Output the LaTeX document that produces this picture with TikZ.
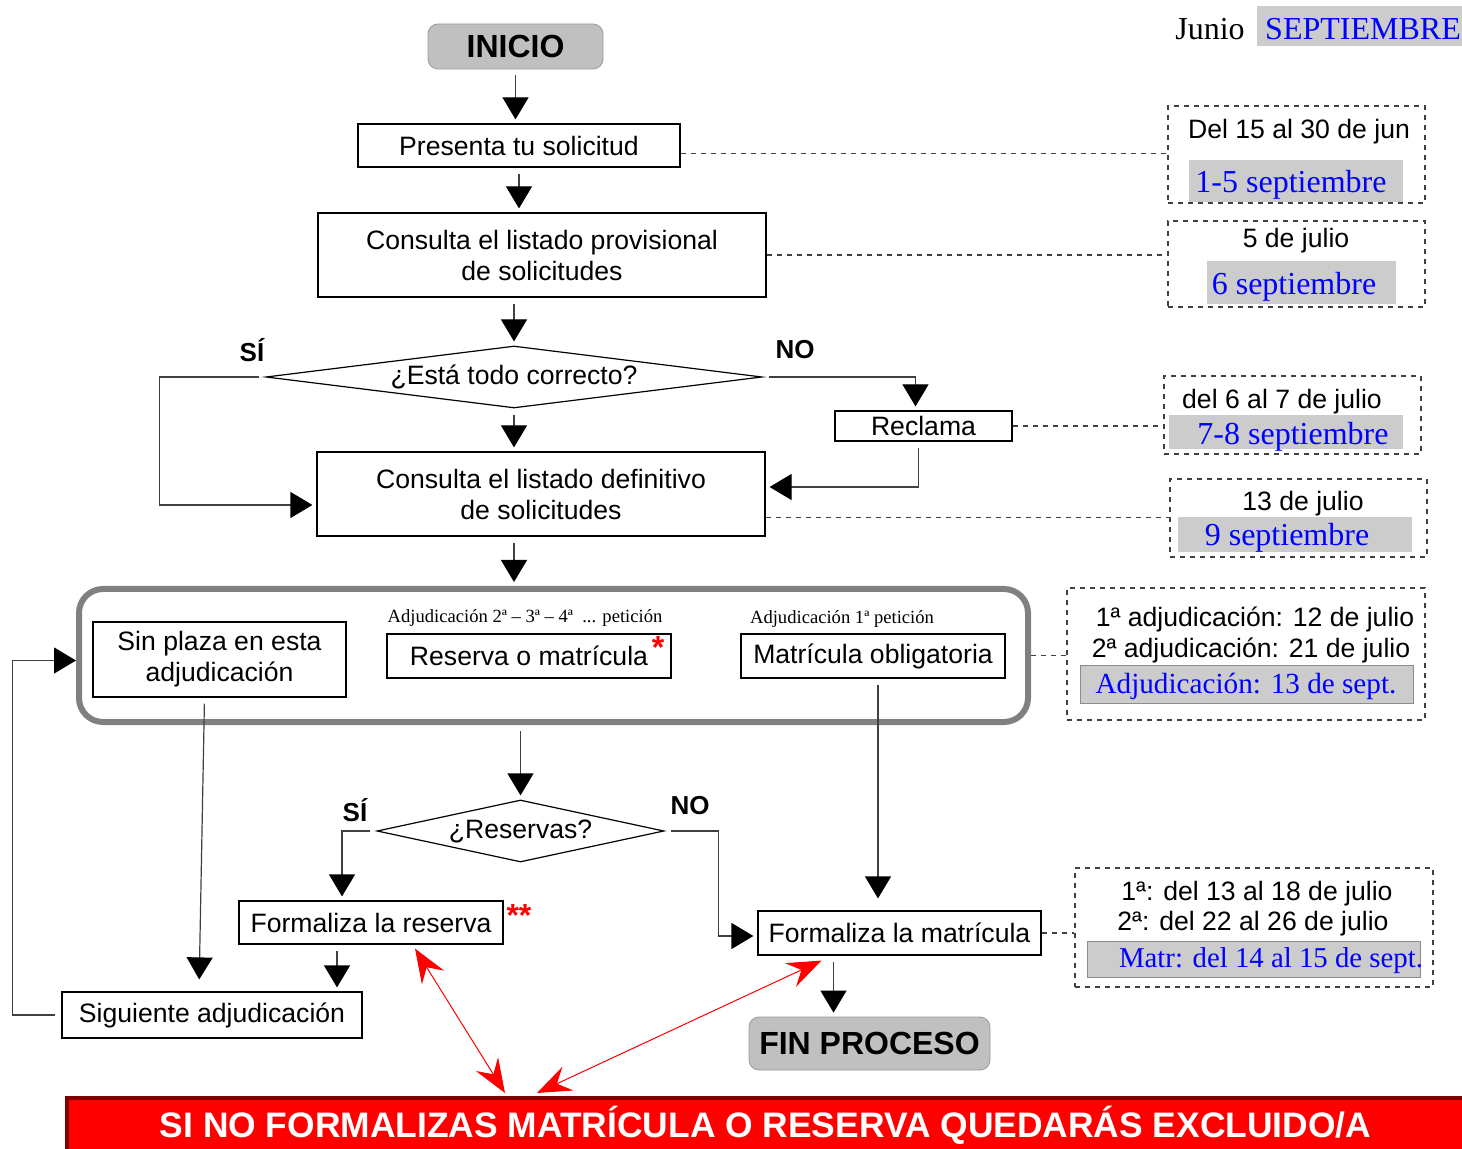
\documentclass[tikz,border=0pt]{standalone}
\usepackage{fontspec}
\setmainfont{Liberation Sans}
\newfontfamily\romana{Liberation Serif}
\usetikzlibrary{shapes.geometric}
\usetikzlibrary{arrows.meta}
\usetikzlibrary{calc}
\definecolor{grisbox}{RGB}{204,204,204}
\definecolor{grisfin}{RGB}{192,192,192}
\definecolor{granate}{RGB}{128,0,0}

\begin{document}
\begin{tikzpicture}[x = .5pt, y = -.5pt,
  caja/.style = {draw, line width = .6pt, fill = white, inner sep = 0, align = center, font = \fontsize{13.3}{15.5}\selectfont},
  terminal/.style = {draw = black!40, fill = grisfin, rounded corners = 5pt, inner sep = 0, font = \fontsize{16}{18}\selectfont\bfseries},
  pregunta/.style = {diamond, draw, line width = .6pt, inner sep = 0, font = \fontsize{13.3}{15.5}\selectfont},
  flecha/.style = {draw = black!75, line width = .6pt, -{Triangle[length = 11pt, width = 13pt, black]}, shorten > = 2pt, shorten < = 3pt},
  guion/.style = {draw = black!75, line width = .6pt, dash pattern = on 2.5pt off 2.5pt},
  fecha/.style = {guion, inner sep = 0},
  marca/.style = {fill = grisbox, inner sep = 0},
  texto/.style = {inner sep = 0, font = \fontsize{13.3}{15.5}\selectfont},
  azul/.style = {inner sep = 0, text = blue, font = \romana\fontsize{16}{18}\selectfont},
  sino/.style = {inner sep = 0, font = \fontsize{13}{15}\selectfont\bfseries},
  nota/.style = {inner sep = 0, font = \romana\fontsize{9.3}{11}\selectfont},
  ast/.style = {inner sep = 0, text = red, font = \fontsize{16}{18}\selectfont\bfseries},
  roja/.style = {draw = red, line width = .5pt, {Stealth[length = 17pt, width = 13pt, inset = 6pt]}-{Stealth[length = 17pt, width = 13pt, inset = 6pt]}},
]
  \useasboundingbox (0, 0) rectangle (1462, 1149);

  % cabecera
  \node[inner sep = 0, font = \romana\fontsize{16}{18}\selectfont] (junio) at (1210, 29) {Junio};
  \node[marca, minimum width = 102.5pt, minimum height = 20pt] (septbox) at (1359.5, 26) {};
  \node[azul] (sept) at (1363, 29) {SEPTIEMBRE};

  % solicitud
  \node[terminal, minimum width = 87.5pt, minimum height = 22.5pt] (inicio) at (515.5, 46.5) {INICIO};
  \node[caja, minimum width = 161pt, minimum height = 21.5pt] (presenta) at (519, 145.5) {Presenta tu solicitud};
  \node[caja, minimum width = 224pt, minimum height = 42pt] (provisional) at (542, 255) {Consulta el listado provisional\\de solicitudes};
  \node[pregunta, aspect = 8, minimum width = 248pt, minimum height = 31pt] (correcto) at (514, 377) {¿Está todo correcto?};
  \node[sino] (si1) at (252, 350) {SÍ};
  \node[sino] (no1) at (795, 350) {NO};
  \node[caja, minimum width = 88.5pt, minimum height = 15pt] (reclama) at (923.5, 426) {Reclama};
  \node[caja, minimum width = 224pt, minimum height = 42pt] (definitivo) at (541, 494) {Consulta el listado definitivo\\de solicitudes};

  % adjudicacion
  \node[draw = black!50, line width = 3pt, rounded corners = 12pt, minimum width = 474.5pt, minimum height = 66.5pt] (grupo) at (553.5, 655.5) {};
  \node[caja, minimum width = 126.5pt, minimum height = 37.5pt] (sinplaza) at (219.5, 659.5) {Sin plaza en esta\\adjudicación};
  \node[caja, minimum width = 142pt, minimum height = 22pt] (reserva) at (529, 656) {Reserva o matrícula};
  \node[caja, minimum width = 132pt, minimum height = 22pt] (obligatoria) at (873, 656) {Matrícula obligatoria};
  \node[nota] (nota2) at (525, 618) {Adjudicación 2ª – 3ª – 4ª \ ... petición};
  \node[nota] (nota1) at (842, 619) {Adjudicación 1ª petición};
  \node[ast] (ast1) at (658, 647) {*};

  % reserva o matricula
  \node[pregunta, aspect = 4.6, minimum width = 143.5pt, minimum height = 31pt] (reservas) at (520.5, 831) {¿Reservas?};
  \node[sino] (si2) at (355, 810) {SÍ};
  \node[sino] (no2) at (690, 806) {NO};
  \node[caja, minimum width = 132pt, minimum height = 21.5pt] (formres) at (371, 922.5) {Formaliza la reserva};
  \node[ast] (ast2) at (519, 915) {**};
  \node[caja, minimum width = 141.5pt, minimum height = 22pt] (formmat) at (899.5, 933) {Formaliza la matrícula};
  \node[caja, minimum width = 150pt, minimum height = 23pt] (siguiente) at (212, 1015) {Siguiente adjudicación};
  \node[terminal, minimum width = 120.5pt, minimum height = 26.5pt] (fin) at (869.5, 1043.5) {FIN PROCESO};
  \node[fill = red, draw = granate, line width = 2pt, text = white, font = \fontsize{17.7}{20}\selectfont\bfseries, minimum width = 698.5pt, minimum height = 27.5pt, inner sep = 0] (aviso) at (765.5, 1125.5) {SI NO FORMALIZAS MATRÍCULA O RESERVA QUEDARÁS EXCLUIDO/A};

  % fechas
  \node[fecha, minimum width = 128.5pt, minimum height = 48.5pt] (fecha1) at (1296.5, 154.5) {};
  \node[texto] (f1a) at (1299, 132) {Del 15 al 30 de jun};
  \node[marca, minimum width = 107pt, minimum height = 21pt] (f1box) at (1296, 181) {};
  \node[azul] (f1b) at (1291, 185) {1-5 septiembre};

  \node[fecha, minimum width = 128.5pt, minimum height = 43pt] (fecha2) at (1296.5, 264) {};
  \node[texto] (f2a) at (1296, 241) {5 de julio};
  \node[marca, minimum width = 94.5pt, minimum height = 21.5pt] (f2box) at (1301.5, 282.5) {};
  \node[azul] (f2b) at (1294, 287) {6 septiembre};

  \node[fecha, minimum width = 128.5pt, minimum height = 39pt] (fecha3) at (1292.5, 415) {};
  \node[texto] (f3a) at (1282, 402) {del 6 al 7 de julio};
  \node[marca, minimum width = 117pt, minimum height = 17pt] (f3box) at (1286, 432) {};
  \node[azul] (f3b) at (1293, 437) {7-8 septiembre};

  \node[fecha, minimum width = 128.5pt, minimum height = 39pt] (fecha4) at (1298.5, 518) {};
  \node[texto] (f4a) at (1303, 504) {13 de julio};
  \node[marca, minimum width = 117pt, minimum height = 17.5pt] (f4box) at (1295, 534.5) {};
  \node[azul] (f4b) at (1287, 538) {9 septiembre};

  \node[fecha, minimum width = 179pt, minimum height = 66pt] (fecha5) at (1246, 654) {};
  \node[texto] (f5a) at (1255, 619) {1ª adjudicación: 12 de julio};
  \node[texto] (f5b) at (1251, 650) {2ª adjudicación: 21 de julio};
  \node[marca, draw = black!45, minimum width = 166.5pt, minimum height = 19pt] (f5box) at (1246.5, 684) {};
  \node[azul, font = \romana\fontsize{14.6}{16}\selectfont] (f5c) at (1246, 686) {Adjudicación: 13 de sept.};

  \node[fecha, minimum width = 179pt, minimum height = 59.5pt] (fecha6) at (1254, 927.5) {};
  \node[texto] (f6a) at (1257, 894) {1ª: del 13 al 18 de julio};
  \node[texto] (f6b) at (1253, 924) {2ª: del 22 al 26 de julio};
  \node[marca, draw = black!45, minimum width = 166.5pt, minimum height = 18pt] (f6box) at (1253.5, 959) {};
  \node[azul, font = \romana\fontsize{14.4}{16}\selectfont] (f6c) at (1271, 961) {Matr: del 14 al 15 de sept.};

  % puntos auxiliares
  \coordinate (presder) at ($(presenta.east)+(0, 8)$);
  \coordinate (defder) at ($(definitivo.south east)+(0, -19)$);
  \coordinate (oblsal) at ($(obligatoria.south)+(5, 0)$);
  \coordinate (ressal) at ($(formres.south)+(-34, 0)$);
  \coordinate (matsal) at ($(formmat.south)+(-66, 0)$);

  % lineas de fechas
  \draw[guion] (presder) -- (presder -| fecha1.west);
  \draw[guion] (provisional.east) -- (provisional.east -| fecha2.west);
  \draw[guion] (reclama.east) -- (reclama.east -| fecha3.west);
  \draw[guion] (defder) -- (defder -| fecha4.west);
  \draw[guion] (grupo.east) -- (grupo.east -| fecha5.west);
  \draw[guion] (formmat.east) -- (formmat.east -| fecha6.west);

  % flujo
  \draw[flecha] (inicio.south) -- (inicio.south |- presenta.north);
  \draw[flecha] (presenta.south) -- (presenta.south |- provisional.north);
  \draw[flecha] (correcto.north |- provisional.south) -- (correcto.north);
  \draw[flecha] (correcto.south) -- (correcto.south |- definitivo.north);
  \draw[flecha] (correcto.west) -- ++(-106, 0) |- ($(definitivo.west)+(0, 11)$);
  \draw[flecha] (correcto.east) -| ($(reclama.north)+(-8, 0)$);
  \draw[flecha] ($(reclama.south)+(-5, 0)$) |- ($(definitivo.east)+(0, -7)$);
  \draw[flecha] (correcto.south |- definitivo.south) -- (correcto.south |- grupo.north);
  \draw[flecha] (reservas.north |- grupo.south) -- (reservas.north);
  \draw[flecha] (reservas.west) -| ($(formres.north)+(-29, 0)$);
  \draw[flecha] (reservas.east) -- ++(54, 0) |- ($(formmat.west)+(0, 3)$);
  \draw[flecha, shorten > = 6pt] (oblsal) -- (oblsal |- formmat.north);
  \draw[flecha] (ressal) -- (ressal |- siguiente.north);
  \draw[flecha] (matsal) -- (matsal |- fin.north);
  \draw[flecha, shorten > = 6pt] ($(sinplaza.south)+(-15, 0)$) -- ($(siguiente.north)+(-13, 0)$);
  \draw[flecha, shorten > = 0pt] (siguiente.west) -- ++(-49, 0) |- ($(grupo.west)+(0, 5)$);

  % avisos
  \draw[roja] ($(formres.south)+(44, 4)$) -- ($(aviso.north west)+(440, -3)$);
  \draw[roja] ($(formmat.south west)+(64, 5)$) -- ($(aviso.north west)+(472, -3)$);
\end{tikzpicture}
\end{document}
